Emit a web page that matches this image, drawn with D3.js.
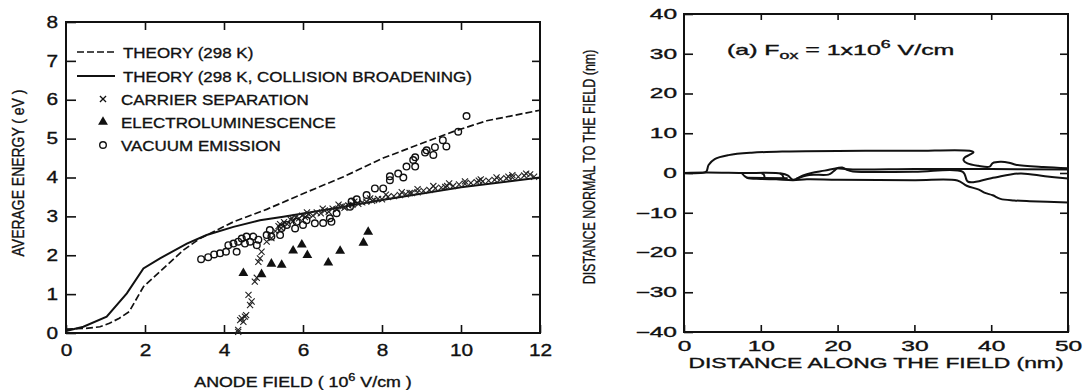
<!DOCTYPE html>
<html>
<head>
<meta charset="utf-8">
<script src="https://cdn.jsdelivr.net/npm/d3@7"></script>
<style>
  body { margin: 0; background: #fff; }
  text { font-family: "Liberation Sans", Arial, sans-serif; fill: #111; stroke: #111; stroke-width: 0.35px; }
</style>
</head>
<body>
<svg id="chart"></svg>
<script>
var width = 1083;
var height = 390;

// ---- left panel data (anode field in 1e6 V/cm, average energy in eV)
var theory298 = [[0,0.1],[0.5,0.12],[0.86,0.16],[1.1,0.25],[1.35,0.38],[1.6,0.55],[1.96,1.19],[2.38,1.58],
  [2.97,2.13],[3.39,2.43],[4.24,2.86],[5.08,3.18],[5.92,3.55],[7.03,4.02],[8.03,4.5],[8.96,4.86],
  [9.8,5.18],[10.65,5.46],[12,5.73]];
var theoryCollision = [[0,0.05],[0.44,0.16],[1.03,0.42],[1.54,1.02],[1.96,1.66],[2.38,1.92],[3.06,2.3],
  [3.56,2.52],[4.24,2.73],[4.91,2.9],[5.5,2.99],[6.77,3.2],[8,3.42],[10,3.75],[12,4.0]];
var carrierSeparation = [[4.36,0.03],[4.36,0.08],[4.41,0.33],[4.45,0.38],[4.49,0.29],[4.53,0.42],[4.56,0.46],
  [4.62,0.98],[4.66,0.72],[4.7,0.81],[4.78,1.32],[4.83,1.42],[4.87,1.83],[4.91,1.92],[4.95,2.09],
  [5.08,2.35],[5.2,2.44],[5.3,2.62],[5.38,2.75],[5.45,2.7],[5.52,2.85],[5.6,2.8],[5.68,2.92],[5.75,2.88],
  [5.82,2.98],[5.9,2.95],[5.98,3.02],[6.05,2.98],[6.15,3.05],[6.25,3.02],[6.35,3.1],[6.45,3.08],
  [6.55,3.15],[6.65,3.12],[6.75,3.2],[6.85,3.18],[6.95,3.25],[7.05,3.22],[7.15,3.28],[7.25,3.3],
  [7.4,3.32],[7.5,3.36],[7.6,3.38],[7.75,3.4],[7.9,3.45],[8.0,3.44],[8.15,3.5],[8.3,3.52],[8.45,3.55],
  [8.6,3.57],[8.75,3.6],[8.9,3.62],[9.05,3.66],[9.2,3.68],[9.35,3.72],[9.5,3.74],[9.65,3.78],[9.8,3.78],
  [9.95,3.82],[10.1,3.84],[10.25,3.86],[10.4,3.88],[10.55,3.9],[10.7,3.92],[10.85,3.94],[11.0,3.96],
  [11.15,3.98],[11.3,4.0],[11.45,4.02],[11.6,4.05],[11.75,4.08],[11.85,4.02],
  [5.42,2.8],[5.72,2.95],[6.1,3.1],[6.5,3.2],[6.9,3.3],[7.3,3.38],[7.7,3.46],[8.1,3.56],[8.5,3.62],
  [8.9,3.7],[9.3,3.78],[9.7,3.85],[10.1,3.9],[10.5,3.95],[10.9,4.0],[11.3,4.06],[11.65,4.1],
  [7.0,3.26],[7.8,3.42],[8.7,3.6],[9.6,3.76],[10.45,3.92],[11.2,4.02]];
var electroluminescence = [[4.49,1.54],[4.95,1.51],[5.2,1.78],[5.46,1.75],[5.75,2.12],[5.97,2.27],
  [6.11,2.0],[6.64,1.81],[6.94,2.11],[7.53,2.32],[7.65,2.6]];
var vacuumEmission = [[3.42,1.9],[3.6,1.95],[3.75,2.02],[3.9,2.05],[4.05,2.09],[4.11,2.26],[4.24,2.3],
  [4.32,2.09],[4.36,2.35],[4.45,2.43],[4.53,2.3],[4.57,2.48],[4.66,2.35],[4.74,2.48],[4.83,2.26],
  [4.87,2.4],[5.08,2.52],[5.16,2.65],[5.2,2.48],[5.42,2.52],[5.46,2.7],[5.59,2.78],[5.8,2.69],
  [5.84,2.86],[6.0,2.78],[6.09,2.9],[6.3,2.82],[6.51,2.83],[6.72,2.86],[6.68,2.95],[6.85,3.08],
  [7.19,3.25],[7.23,3.38],[7.36,3.44],[7.61,3.55],[7.82,3.72],[8.03,3.72],[8.2,3.93],[8.2,4.03],
  [8.41,4.1],[8.54,4.0],[8.62,4.28],[8.79,4.45],[8.84,4.28],[8.84,4.52],[9.09,4.64],[9.13,4.7],
  [9.3,4.58],[9.34,4.78],[9.54,4.96],[9.63,4.8],[9.93,5.18],[10.14,5.58]];

var legendLabels = ["THEORY (298 K)", "THEORY (298 K, COLLISION BROADENING)", "CARRIER SEPARATION",
  "ELECTROLUMINESCENCE", "VACUUM EMISSION"];
var xTicksL = [0, 2, 4, 6, 8, 10, 12];
var yTicksL = [0, 1, 2, 3, 4, 5, 6, 7, 8];

// ---- right panel data (nm)
var upperEnvelope = [[0,0],[2.6,0.1],[2.95,0.5],[3.2,2.0],[4.0,3.5],[5.8,4.5],[8.8,5.1],[13,5.4],
  [23.6,5.6],[30,5.6],[37.2,5.6],[37.7,5.2],[37.2,4.6],[36.5,3.8],[36.4,3.2],[36.9,2.4],[38.3,1.8],
  [39.8,1.6],[40.2,2.5],[41.2,2.8],[42.3,2.6],[43.2,2.1],[46.8,1.5],[50,1.2]];
var middleTrack = [[0,0],[2.9,0.1],[7.5,0.0],[12.7,-0.1],[13.5,-0.6],[14.2,-1.7],[15.5,-0.6],
  [16.6,0.0],[18.3,0.6],[19.9,1.2],[20.6,1.4],[21.2,0.8],[22,0.4],[30,0.3],[36.3,0.3],[37,-2.2],
  [40,-1.3],[43.8,-0.1],[47,-0.8],[50,-1.4]];
var upperTrack = [[19.9,1.2],[22,0.9],[30,1.0],[40,1.0],[50,0.9]];
var lowerEnvelope = [[7.5,0.0],[8.2,-1.2],[10,-1.5],[12,-1.6],[14.2,-1.8],[16,-1.6],[20,-1.7],
  [30,-1.8],[35.6,-1.9],[36.8,-3.2],[38.4,-4.2],[39.2,-5.0],[40.2,-5.6],[41.2,-6.5],[43,-6.9],
  [45,-7.1],[50,-7.4]];
var loopA = [[10.1,-0.1],[10.4,-0.4],[10.5,-1.4]];
var loopB = [[12.5,-0.1],[12.8,-0.5],[13.0,-1.5]];
var loopC = [[14.6,-1.5],[16.3,-0.5],[18.8,-0.4],[19.4,0.3],[19.9,1.2]];
var loopD = [[8.2,-1.2],[13.5,-1.3]];
var xTicksR = [0, 10, 20, 30, 40, 50];
var yTicksR = [-40, -30, -20, -10, 0, 10, 20, 30, 40];

var svg = d3.select("svg#chart")
  .attr("width", width)
  .attr("height", height);

svg.append("rect").attr("width", width).attr("height", height).attr("fill", "#fff");

// widen (or narrow) plain text runs, the scan's lettering is much wider than Arial
function stretch(sel, k) {
  sel.each(function() {
    var w = this.getComputedTextLength();
    d3.select(this).attr("textLength", w * k).attr("lengthAdjust", "spacingAndGlyphs");
  });
}

function styleAxis(g, size) {
  g.select(".domain").remove();
  g.selectAll(".tick line").attr("stroke", "#111").attr("stroke-width", 1.6);
  g.selectAll("text").attr("font-size", size).attr("fill", "#111")
    .attr("font-family", "Liberation Sans, Arial, sans-serif");
}

// rotated title squeezed to a given length with a scale transform
function rotatedTitle(parent, cx, cy, size, len, label) {
  var g = parent.append("g");
  var t = g.append("text")
    .attr("text-anchor", "middle")
    .attr("font-size", size)
    .text(label);
  var k = len / t.node().getComputedTextLength();
  g.attr("transform", "translate(" + cx + "," + cy + ") rotate(-90) scale(" + k + ",1)");
  return g;
}

// ================= LEFT PANEL =================
var xL = d3.scaleLinear().domain([0, 12]).range([66, 540]);
var yL = d3.scaleLinear().domain([0, 8]).range([333, 22]);

var left = svg.append("g").attr("class", "left");

var gxL = left.append("g")
  .attr("transform", "translate(0," + yL(0) + ")")
  .call(d3.axisBottom(xL).tickValues(xTicksL).tickSize(-8).tickPadding(12));
styleAxis(gxL, 16);
stretch(gxL.selectAll("text"), 1.3);

var gyL = left.append("g")
  .attr("transform", "translate(" + xL(0) + ",0)")
  .call(d3.axisLeft(yL).tickValues(yTicksL).tickSize(-10).tickPadding(8));
styleAxis(gyL, 16);
stretch(gyL.selectAll("text"), 1.3);

var gtL = left.append("g")
  .attr("transform", "translate(0," + yL(8) + ")")
  .call(d3.axisTop(xL).tickValues([2, 4, 6, 8, 10]).tickSize(-8).tickFormat(""));
styleAxis(gtL, 16);

var grL = left.append("g")
  .attr("transform", "translate(" + xL(12) + ",0)")
  .call(d3.axisRight(yL).tickValues([1, 2, 3, 4, 5, 6, 7]).tickSize(-8).tickFormat(""));
styleAxis(grL, 16);

left.append("rect")
  .attr("x", xL(0)).attr("y", yL(8))
  .attr("width", xL(12) - xL(0)).attr("height", yL(0) - yL(8))
  .attr("fill", "none").attr("stroke", "#111").attr("stroke-width", 2);

var lineL = d3.line()
  .x(function(d) { return xL(d[0]); })
  .y(function(d) { return yL(d[1]); });

left.append("path")
  .attr("d", lineL(theory298))
  .attr("fill", "none").attr("stroke", "#111").attr("stroke-width", 1.7)
  .attr("stroke-dasharray", "7,3");

left.append("path")
  .attr("d", lineL(theoryCollision))
  .attr("fill", "none").attr("stroke", "#111").attr("stroke-width", 2);

var crossSym = d3.symbol().type(d3.symbolTimes).size(26);
var triSym = d3.symbol().type(d3.symbolTriangle).size(42);

left.selectAll("path.sep")
  .data(carrierSeparation)
  .enter().append("path")
  .attr("class", "sep")
  .attr("d", crossSym)
  .attr("transform", function(d) { return "translate(" + xL(d[0]) + "," + yL(d[1]) + ")"; })
  .attr("fill", "none").attr("stroke", "#222").attr("stroke-width", 1.1);

left.selectAll("circle.vac")
  .data(vacuumEmission)
  .enter().append("circle")
  .attr("class", "vac")
  .attr("cx", function(d) { return xL(d[0]); })
  .attr("cy", function(d) { return yL(d[1]); })
  .attr("r", 3.3)
  .attr("fill", "none").attr("stroke", "#111").attr("stroke-width", 1.4);

left.selectAll("path.el")
  .data(electroluminescence)
  .enter().append("path")
  .attr("class", "el")
  .attr("d", triSym)
  .attr("transform", function(d) { return "translate(" + xL(d[0]) + "," + yL(d[1]) + ")"; })
  .attr("fill", "#111");

// legend
var legend = left.append("g").attr("class", "legend");
var legendY = [52, 76, 99, 122, 145];

legend.append("line")
  .attr("x1", 77).attr("x2", 115).attr("y1", legendY[0]).attr("y2", legendY[0])
  .attr("stroke", "#111").attr("stroke-width", 1.7).attr("stroke-dasharray", "7,3");
legend.append("line")
  .attr("x1", 77).attr("x2", 115).attr("y1", legendY[1]).attr("y2", legendY[1])
  .attr("stroke", "#111").attr("stroke-width", 2);
legend.append("path")
  .attr("d", crossSym)
  .attr("transform", "translate(103," + legendY[2] + ")")
  .attr("fill", "none").attr("stroke", "#111").attr("stroke-width", 1.3);
legend.append("path")
  .attr("d", triSym)
  .attr("transform", "translate(103," + legendY[3] + ")")
  .attr("fill", "#111");
legend.append("circle")
  .attr("cx", 103).attr("cy", legendY[4]).attr("r", 3.3)
  .attr("fill", "none").attr("stroke", "#111").attr("stroke-width", 1.4);

var legendText = legend.selectAll("text.leg")
  .data(legendLabels)
  .enter().append("text")
  .attr("class", "leg")
  .attr("x", function(d, i) { return i < 2 ? 123 : 121; })
  .attr("y", function(d, i) { return legendY[i] + 5.5; })
  .attr("font-size", 15)
  .text(function(d) { return d; });
stretch(legendText, 1.13);

// axis titles
var xTitleL = left.append("g").attr("transform", "translate(" + ((xL(0) + xL(12)) / 2) + ",387) scale(1.27,1)")
  .append("text").attr("text-anchor", "middle").attr("font-size", 14);
xTitleL.append("tspan").text("ANODE FIELD ( 10");
xTitleL.append("tspan").attr("font-size", 10).attr("dy", -6).text("6");
xTitleL.append("tspan").attr("dy", 6).text("  V/cm )");

rotatedTitle(left, 24, 173, 16, 167, "AVERAGE ENERGY ( eV )");

// ================= RIGHT PANEL =================
var xR = d3.scaleLinear().domain([0, 50]).range([684, 1068]);
var yR = d3.scaleLinear().domain([-40, 40]).range([332, 14]);

var right = svg.append("g").attr("class", "right");

var gxR = right.append("g")
  .attr("transform", "translate(0," + yR(-40) + ")")
  .call(d3.axisBottom(xR).tickValues(xTicksR).tickSize(-7).tickPadding(9));
styleAxis(gxR, 14);
stretch(gxR.selectAll("text"), 1.75);

var gyR = right.append("g")
  .attr("transform", "translate(" + xR(0) + ",0)")
  .call(d3.axisLeft(yR).tickValues(yTicksR).tickSize(-9).tickPadding(7));
styleAxis(gyR, 14);
stretch(gyR.selectAll("text"), 1.75);

var gtR = right.append("g")
  .attr("transform", "translate(0," + yR(40) + ")")
  .call(d3.axisTop(xR).tickValues([10, 20, 30, 40]).tickSize(-6).tickFormat(""));
styleAxis(gtR, 14);

var grR = right.append("g")
  .attr("transform", "translate(" + xR(50) + ",0)")
  .call(d3.axisRight(yR).tickValues([-30, -20, -10, 0, 10, 20, 30]).tickSize(-8).tickFormat(""));
styleAxis(grR, 14);

right.append("rect")
  .attr("x", xR(0)).attr("y", yR(40))
  .attr("width", xR(50) - xR(0)).attr("height", yR(-40) - yR(40))
  .attr("fill", "none").attr("stroke", "#111").attr("stroke-width", 2);

var lineR = d3.line()
  .x(function(d) { return xR(d[0]); })
  .y(function(d) { return yR(d[1]); })
  .curve(d3.curveCatmullRom.alpha(0.5));

var tracks = [upperEnvelope, middleTrack, upperTrack, lowerEnvelope, loopA, loopB, loopC, loopD];
right.selectAll("path.track")
  .data(tracks)
  .enter().append("path")
  .attr("class", "track")
  .attr("d", lineR)
  .attr("fill", "none").attr("stroke", "#111").attr("stroke-width", 2)
  .attr("stroke-linejoin", "round");

var note = right.append("g").attr("transform", "translate(727,55) scale(1.78,1)")
  .append("text").attr("font-size", 14);
note.append("tspan").text("(a) F");
note.append("tspan").attr("font-size", 10).attr("dy", 4).text("ox");
note.append("tspan").attr("dy", -4).text(" =  1x10");
note.append("tspan").attr("font-size", 10).attr("dy", -7).text("6");
note.append("tspan").attr("dy", 7).text(" V/cm");

right.append("text")
  .attr("x", (xR(0) + xR(50)) / 2).attr("y", 368)
  .attr("text-anchor", "middle")
  .attr("font-size", 14)
  .attr("textLength", 375).attr("lengthAdjust", "spacingAndGlyphs")
  .text("DISTANCE ALONG THE FIELD (nm)");

rotatedTitle(right, 595, 167, 16, 235, "DISTANCE NORMAL TO THE FIELD (nm)");
</script>
</body>
</html>
